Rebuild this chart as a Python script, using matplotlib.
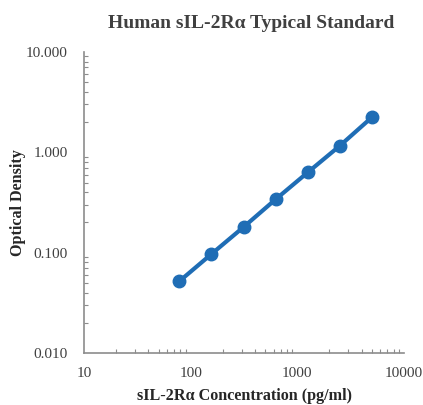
import matplotlib.pyplot as plt
import numpy as np
from matplotlib.ticker import FixedLocator, LogLocator, NullFormatter

concentration = [78.125, 156.25, 312.5, 625, 1250, 2500, 5000]
optical_density = [0.052, 0.097, 0.180, 0.340, 0.630, 1.160, 2.230]

x_ticks = [10, 100, 1000, 10000]
x_labels = ["10", "100", "1000", "10000"]
y_ticks = [0.01, 0.1, 1, 10]
y_labels = ["0.010", "0.100", "1.000", "10.000"]

blue = "#1f6db5"
axis_grey = "#8c8c8c"
serif = ["Liberation Serif", "DejaVu Serif"]

fig = plt.figure(figsize=(4.23, 4.05), dpi=100)
ax = fig.add_axes([0.199, 0.128, 0.756, 0.744])

ax.plot(concentration, optical_density, color=blue, lw=3, marker="o", ms=9,
        markerfacecolor=blue, markeredgecolor=blue, solid_capstyle="round")

ax.set_xscale("log")
ax.set_yscale("log")
ax.set_xlim(10, 10000)
ax.set_ylim(0.01, 10)

ax.xaxis.set_major_locator(FixedLocator(x_ticks))
ax.yaxis.set_major_locator(FixedLocator(y_ticks))
ax.set_xticklabels(x_labels, fontfamily=serif, fontsize=11, color="#404040")
ax.set_yticklabels(y_labels, fontfamily=serif, fontsize=11, color="#404040")
ax.xaxis.set_minor_locator(LogLocator(base=10, subs=np.arange(2, 10)))
ax.yaxis.set_minor_locator(LogLocator(base=10, subs=np.arange(2, 10)))
ax.xaxis.set_minor_formatter(NullFormatter())
ax.yaxis.set_minor_formatter(NullFormatter())

ax.tick_params(which="major", direction="in", length=0)
ax.tick_params(axis="y", which="major", pad=12)
ax.tick_params(axis="x", which="major", pad=10)
ax.tick_params(which="minor", direction="in", length=3, width=0.8, color=axis_grey)

for side in ("top", "right"):
    ax.spines[side].set_visible(False)
for side in ("left", "bottom"):
    ax.spines[side].set_color(axis_grey)
    ax.spines[side].set_linewidth(1.2)

ax.set_xlabel("sIL-2Rα Concentration (pg/ml)", fontfamily=serif, fontsize=11.6,
              fontweight="bold", color="#262626", labelpad=6)
ax.set_ylabel("Optical Density", fontfamily=serif, fontsize=11.6,
              fontweight="bold", color="#262626")
ax.yaxis.set_label_coords(-0.182, 0.5)
fig.text(0.595, 0.943, "Human sIL-2Rα Typical Standard", ha="center", va="center",
         fontfamily=serif, fontsize=14, fontweight="bold", color="#404040")

fig.savefig("out.png", dpi=100, facecolor="white")
